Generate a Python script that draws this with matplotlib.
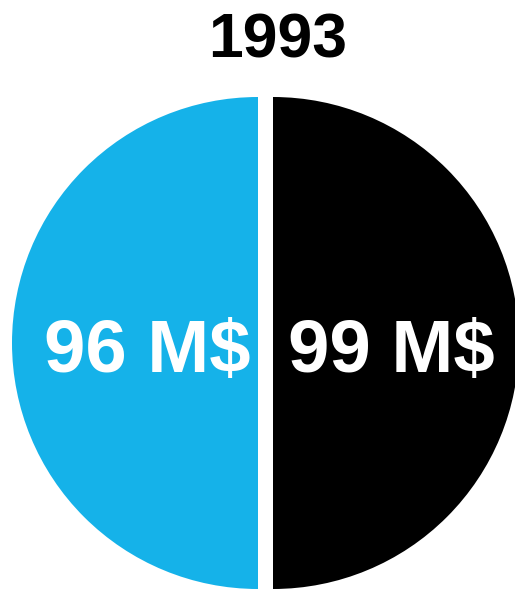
import matplotlib
matplotlib.use('Agg')
import matplotlib.pyplot as plt

year = '1993'
categories = ['A', 'B']
values = [96, 99]          # M$
shares = [0.5, 0.5]        # each value gets one half of the circle
colors = ['#15b2e9', '#000000']

plt.rcParams['font.family'] = ['Liberation Sans', 'DejaVu Sans']

fig = plt.figure(figsize=(5.15, 5.90), dpi=100)
ax = fig.add_axes([0, 0, 1, 1])

wedges, _ = ax.pie(
    shares,
    colors=colors,
    startangle=90,
    radius=246,
    center=(265.5, 247),
    explode=[7.5, 7.5],
    wedgeprops={'linewidth': 0},
)
ax.set_xlim(0, 515)
ax.set_ylim(0, 590)
ax.axis('off')

label_x = [147, 391]
for x, v in zip(label_x, values):
    ax.text(x, 238, f'{v} M$', color='white', fontsize=53.5,
            fontweight='bold', ha='center', va='center')

fig.text(278 / 515, 1 - 41 / 590, year, fontsize=45, fontweight='bold',
         ha='center', va='center')

fig.savefig('out.png', dpi=100)
